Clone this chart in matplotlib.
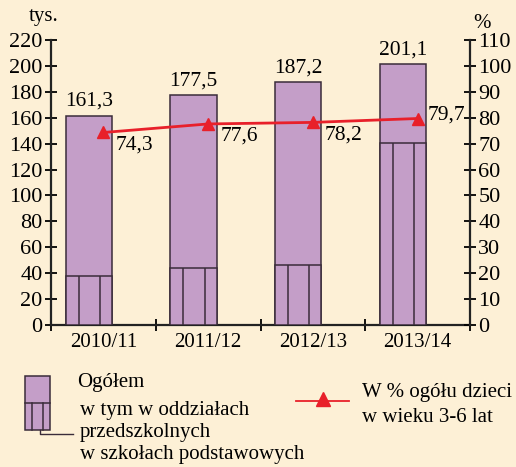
import matplotlib.pyplot as plt
import matplotlib.patches as patches
import numpy as np

# dane
lata = ["2010/11", "2011/12", "2012/13", "2013/14"]
ogolem = [161.3, 177.5, 187.2, 201.1]            # tys.
w_szkolach = [37.5, 44.0, 46.5, 140.5]          # tys., oddziały przedszkolne w szkołach podstawowych
procent = [74.3, 77.6, 78.2, 79.7]              # % ogółu dzieci w wieku 3-6 lat

tlo = '#FDF0D6'
fiolet = '#C49EC8'
krawedz = '#3A2C3A'
czerwony = '#E8202A'

plt.rcParams['font.family'] = ['Liberation Serif', 'DejaVu Serif']
plt.rcParams['font.size'] = 15

fig = plt.figure(figsize=(5.16, 4.67), dpi=100, facecolor=tlo)
ax = fig.add_axes([51/516, 1 - 325/467, 419/516, 285/467])
ax.set_facecolor(tlo)
ax2 = ax.twinx()

x = np.arange(len(lata))
szer = 0.44
xb = x - 0.14

# słupki: ogółem i część w szkołach podstawowych
ax.bar(xb, ogolem, width=szer, color=fiolet, edgecolor=krawedz, linewidth=1.1, zorder=2)
ax.bar(xb, w_szkolach, width=szer, color=fiolet, edgecolor=krawedz, linewidth=1.1, zorder=3)
for xi, h in zip(xb, w_szkolach):
    ax.vlines([xi - szer/2 + 0.28*szer, xi - szer/2 + 0.74*szer], 0, h,
              color=krawedz, linewidth=1.1, zorder=4)

for xi, v in zip(xb, ogolem):
    ax.annotate(f"{v:.1f}".replace('.', ','), (xi, v), xytext=(0, 5),
                textcoords='offset pixels', ha='center', va='bottom', fontsize=15.5)

ax.set_xlim(-0.5, 3.5)
ax.set_ylim(0, 220)
ax.set_yticks(range(0, 221, 20))
ax.set_xticks([-0.5, 0.5, 1.5, 2.5, 3.5])
ax.set_xticklabels([])
ax.set_xticks(x, minor=True)
ax.set_xticklabels(lata, minor=True)
ax.tick_params(axis='x', which='minor', length=0, pad=6, labelsize=15)
ax.tick_params(axis='x', which='major', direction='inout', length=8, width=1.3)
ax.tick_params(axis='y', direction='inout', length=8, width=1.3, pad=2, labelsize=16)
for s in ['top', 'right']:
    ax.spines[s].set_visible(False)
for s in ['left', 'bottom']:
    ax.spines[s].set_linewidth(1.6)
    ax.spines[s].set_color('#222222')

# linia procentowa
ax2.plot(x, procent, color=czerwony, linewidth=2, marker='^', markersize=8, zorder=5)
ax2.set_ylim(0, 110)
ax2.set_yticks(range(0, 111, 10))
ax2.tick_params(axis='y', direction='inout', length=8, width=1.3, pad=2, labelsize=16)
for s in ['top', 'left', 'bottom']:
    ax2.spines[s].set_visible(False)
ax2.spines['right'].set_linewidth(1.6)
ax2.spines['right'].set_color('#222222')

for i, v in enumerate(procent):
    txt = f"{v:.1f}".replace('.', ',')
    if i < len(procent) - 1:
        ax2.annotate(txt, (x[i], v), xytext=(12, -3), textcoords='offset pixels',
                     ha='left', va='top', fontsize=15.5)
    else:
        ax2.annotate(txt, (x[i], v), xytext=(10, 3), textcoords='offset pixels',
                     ha='left', va='center', fontsize=15.5)

fig.text(29/516, 1 - 17/467, "tys.", ha='left', va='center', fontsize=15)
fig.text(473/516, 1 - 24/467, "%", ha='left', va='center', fontsize=15)

# legenda
lg = fig.add_axes([0, 0, 1, 1])
lg.set_xlim(0, 516)
lg.set_ylim(467, 0)
lg.axis('off')
lg.add_patch(patches.Rectangle((25, 376), 25, 54, facecolor=fiolet, edgecolor=krawedz, linewidth=1.1))
lg.plot([25, 50], [403, 403], color=krawedz, linewidth=1.1)
lg.plot([32, 32], [403, 430], color=krawedz, linewidth=1.1)
lg.plot([43, 43], [403, 430], color=krawedz, linewidth=1.1)
lg.plot([40, 40, 73], [430, 434, 434], color=krawedz, linewidth=1)
lg.text(77, 383, "Ogółem", ha='left', va='center', fontsize=15)
lg.text(80, 410, "w tym w oddziałach", ha='left', va='center', fontsize=15)
lg.text(80, 432, "przedszkolnych", ha='left', va='center', fontsize=15)
lg.text(80, 455, "w szkołach podstawowych", ha='left', va='center', fontsize=15)
lg.plot([296, 349], [401, 401], color=czerwony, linewidth=1.3)
lg.plot([323], [399], marker='^', color=czerwony, markersize=10)
lg.text(362, 393, "W % ogółu dzieci", ha='left', va='center', fontsize=15)
lg.text(362, 418, "w wieku 3-6 lat", ha='left', va='center', fontsize=15)

fig.savefig("out.png", dpi=100, facecolor=tlo)
